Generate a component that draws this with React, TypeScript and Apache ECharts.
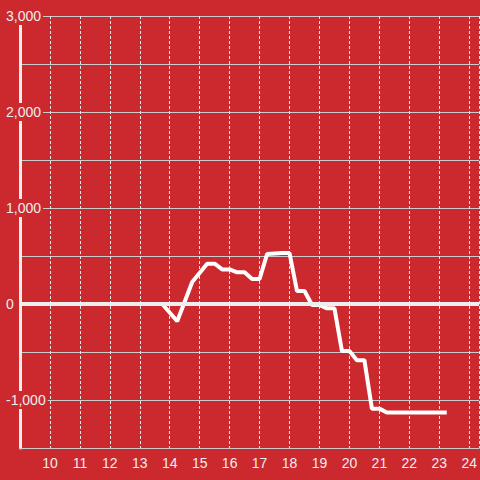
import React, { useEffect, useRef } from "react";
import * as echarts from "echarts";

const BG = "#cc292e";

// [hour of day, value]
const points: [number, number][] = [
  [9, 0],
  [13.75, 0],
  [14.25, -180],
  [14.75, 230],
  [15.25, 420],
  [15.5, 420],
  [15.75, 360],
  [16, 360],
  [16.25, 330],
  [16.5, 330],
  [16.75, 260],
  [17, 260],
  [17.25, 520],
  [17.75, 530],
  [18, 530],
  [18.25, 135],
  [18.5, 135],
  [18.75, -10],
  [19, -10],
  [19.25, -45],
  [19.5, -45],
  [19.75, -490],
  [20, -490],
  [20.25, -585],
  [20.5, -585],
  [20.75, -1090],
  [21, -1090],
  [21.25, -1130],
  [23.25, -1130],
];

const yMin = -1500;
const yMax = 3000;
const yStep = 500;
const yLabelStep = 1000;
const xMin = 9;
const xMax = 24.333;
const xStep = 1;

export default function App() {
  const ref = useRef<HTMLDivElement>(null);
  useEffect(() => {
    if (!ref.current) return;
    const chart = echarts.init(ref.current, null, { renderer: "svg" });
    chart.setOption({
      animation: false,
      backgroundColor: BG,
      grid: { left: 20, right: 0, top: 16, bottom: 32, containLabel: false },
      xAxis: {
        type: "value",
        min: xMin,
        max: xMax,
        interval: xStep,
        axisLine: { show: true, onZero: false, lineStyle: { color: "#cccccc", width: 1 } },
        axisTick: { show: false },
        axisLabel: {
          showMinLabel: false,
          showMaxLabel: false,
          color: "#eeeeee",
          fontSize: 14,
          fontFamily: "Liberation Sans",
          margin: 8,
        },
        splitLine: { show: true, lineStyle: { color: "#e8e8e8", width: 1, type: [3, 2] } },
      },
      yAxis: {
        type: "value",
        min: yMin,
        max: yMax,
        interval: yStep,
        axisLine: { show: true, lineStyle: { color: "#eeeeee", width: 3 } },
        axisTick: { show: false },
        axisLabel: {
          margin: 14,
          align: "left",
          formatter: (v: number) =>
            v % yLabelStep === 0 ? `{a|${v.toLocaleString("en-US")}}` : "",
          rich: {
            a: {
              color: "#eeeeee",
              fontSize: 14,
              fontFamily: "Liberation Sans",
              backgroundColor: BG,
              padding: [2, 2, 2, 0],
            },
          },
        },
        splitLine: { show: true, lineStyle: { color: "#cccccc", width: 1 } },
      },
      series: [
        {
          type: "line",
          data: points,
          symbol: "none",
          lineStyle: { color: "#ffffff", width: 4 },
          z: 3,
          markLine: {
            silent: true,
            symbol: "none",
            label: { show: false },
            lineStyle: { color: "#eeeeee", width: 4, type: "solid" },
            data: [{ yAxis: 0 }],
          },
        },
      ],
    });
    return () => chart.dispose();
  }, []);
  return <div ref={ref} style={{ width: 480, height: 480, position: "absolute", left: 0, top: 0 }} />;
}
